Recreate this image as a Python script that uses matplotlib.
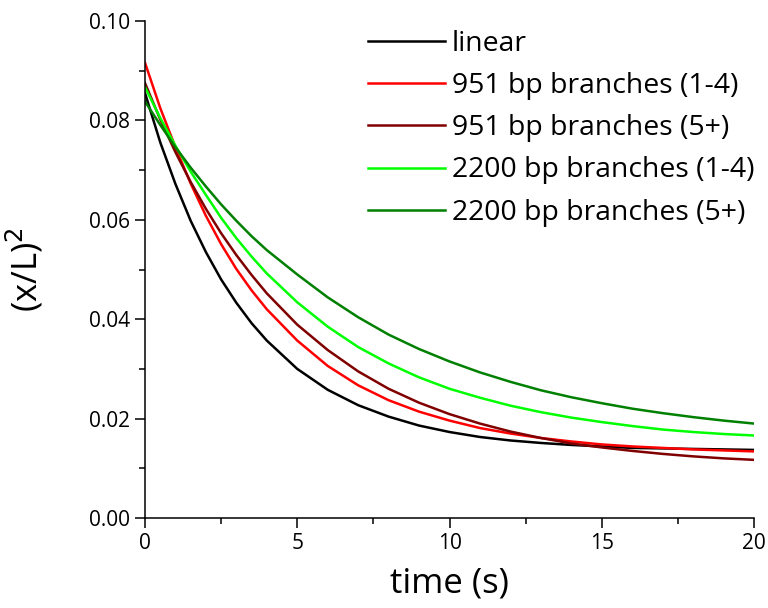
import matplotlib
matplotlib.use("Agg")
import matplotlib.pyplot as plt
from matplotlib.ticker import MultipleLocator

plt.rcParams['font.family'] = ['Open Sans', 'DejaVu Sans']

time_s = [0, 0.5, 1, 1.5, 2, 2.5, 3, 3.5, 4, 5, 6, 7, 8, 9, 10,
          11, 12, 13, 14, 15, 16, 17, 18, 19, 20]

linear = [0.0855, 0.0756, 0.0672, 0.0598, 0.0535, 0.0480, 0.0433, 0.0392, 0.0357,
          0.0300, 0.0258, 0.0227, 0.0204, 0.0186, 0.0173, 0.0163, 0.0156, 0.0151,
          0.0147, 0.0144, 0.0141, 0.0140, 0.0139, 0.0138, 0.0137]

b951_14 = [0.0916, 0.0825, 0.0746, 0.0673, 0.0608, 0.0551, 0.0501, 0.0458, 0.0420,
           0.0357, 0.0306, 0.0267, 0.0237, 0.0214, 0.0196, 0.0181, 0.0170, 0.0161,
           0.0154, 0.0148, 0.0144, 0.0141, 0.0138, 0.0136, 0.0134]

b951_5p = [0.0875, 0.0802, 0.0736, 0.0676, 0.0622, 0.0573, 0.0529, 0.0489, 0.0452,
           0.0389, 0.0338, 0.0295, 0.0260, 0.0232, 0.0209, 0.0190, 0.0174, 0.0161,
           0.0150, 0.0142, 0.0135, 0.0129, 0.0124, 0.0120, 0.0117]

b2200_14 = [0.0867, 0.0805, 0.0749, 0.0697, 0.0650, 0.0604, 0.0563, 0.0526, 0.0492,
            0.0434, 0.0385, 0.0344, 0.0311, 0.0283, 0.0260, 0.0242, 0.0226, 0.0213,
            0.0202, 0.0193, 0.0185, 0.0178, 0.0173, 0.0169, 0.0166]

b2200_5p = [0.0838, 0.0791, 0.0746, 0.0705, 0.0667, 0.0631, 0.0598, 0.0567, 0.0539,
            0.0490, 0.0444, 0.0404, 0.0369, 0.0340, 0.0315, 0.0293, 0.0274, 0.0257,
            0.0243, 0.0231, 0.0220, 0.0211, 0.0203, 0.0196, 0.0190]

series_labels = ['linear', '951 bp branches (1-4)', '951 bp branches (5+)',
                 '2200 bp branches (1-4)', '2200 bp branches (5+)']
series_colors = ['#000000', '#ff0000', '#800000', '#00ff00', '#008000']
series_values = [linear, b951_14, b951_5p, b2200_14, b2200_5p]

x_ticks = [0, 5, 10, 15, 20]
y_ticks = [0.00, 0.02, 0.04, 0.06, 0.08, 0.10]

fig = plt.figure(figsize=(7.68, 6.08), dpi=100)
ax = fig.add_axes([145/768, 90/608, (754-145)/768, (518-21)/608])

for vals, lab, col in zip(series_values, series_labels, series_colors):
    ax.plot(time_s, vals, color=col, lw=1.8, label=lab,
            solid_joinstyle='round')

ax.set_xlim(0, 20)
ax.set_ylim(0, 0.10)
ax.set_xticks(x_ticks)
ax.set_xticklabels([str(v) for v in x_ticks])
ax.set_yticks(y_ticks)
ax.set_yticklabels([f"{v:.2f}" for v in y_ticks])
ax.xaxis.set_minor_locator(MultipleLocator(2.5))
ax.yaxis.set_minor_locator(MultipleLocator(0.01))

for s in ['top', 'right']:
    ax.spines[s].set_visible(False)
for s in ['left', 'bottom']:
    ax.spines[s].set_linewidth(1.1)
    ax.spines[s].set_clip_on(False)

ax.tick_params(which='major', direction='out', length=7, width=1.1, labelsize=15, pad=4)
ax.tick_params(which='minor', direction='out', length=4, width=1.1)

ax.set_xlabel('time (s)', fontsize=25, labelpad=9)
ax.set_ylabel('(x/L)$^2$', fontsize=25, labelpad=31)

leg = fig.legend(loc='upper left', bbox_to_anchor=(368/768, 1 - 30/608),
                 frameon=False, fontsize=20.4, handlelength=2.7, handletextpad=0.25,
                 labelspacing=0.5, borderpad=0, borderaxespad=0)
for line in leg.get_lines():
    line.set_linewidth(1.8)

fig.savefig('out.png', dpi=100)
